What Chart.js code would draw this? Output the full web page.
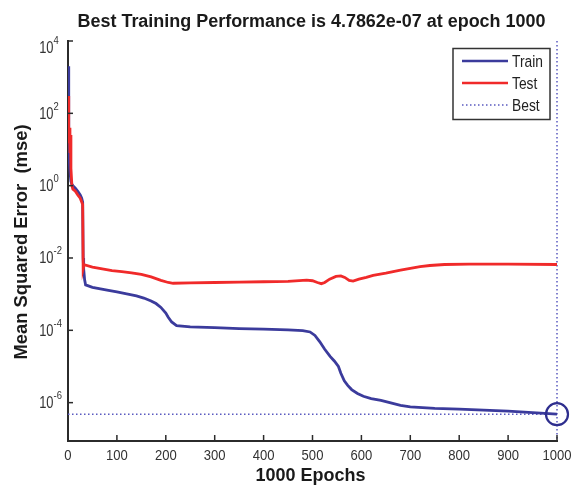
<!DOCTYPE html>
<html><head><meta charset="utf-8">
<script src="https://cdn.jsdelivr.net/npm/chart.js@4.4.0/dist/chart.umd.min.js"></script>
<style>html,body{margin:0;padding:0;background:#fff}canvas{display:block}</style>
</head><body>
<canvas id="c" width="572" height="485"></canvas>
<script>
const trainEpochs = [0,1,2,4,6,8,10,15,20,25,28,30,31,32,34,36,50,80,100,120,140,155,170,180,190,200,205,212,222,250,300,350,400,450,480,495,505,515,525,536,545,553,558,565,572,580,592,604,620,640,660,680,700,750,800,850,900,950,1000];
const trainMSE = [2000,25,8,2.5,1.3,1.1,1.0,0.85,0.7,0.55,0.45,0.35,0.01,5e-3,2.5e-3,1.8e-3,1.55e-3,1.3e-3,1.15e-3,1.02e-3,9.0e-4,7.8e-4,6.5e-4,5.5e-4,4.3e-4,3.0e-4,2.3e-4,1.7e-4,1.35e-4,1.25e-4,1.18e-4,1.12e-4,1.08e-4,1.03e-4,9.8e-5,9.0e-5,7.2e-5,4.8e-5,3.0e-5,1.9e-5,1.4e-5,1.0e-5,6.5e-6,4.0e-6,3.0e-6,2.3e-6,1.8e-6,1.5e-6,1.3e-6,1.15e-6,9.8e-7,8.4e-7,7.6e-7,6.9e-7,6.6e-7,6.2e-7,5.8e-7,5.3e-7,4.7862e-7];
const testEpochs = [0,1,2,3,4,5,6,8,10,15,20,25,30,31,33,50,70,90,110,130,150,170,190,205,215,250,300,350,400,450,488,500,510,518,525,535,548,558,566,575,583,595,610,624,650,680,700,720,740,770,820,900,1000];
const testMSE = [300,120,15,40,8,25,3,1.0,0.8,0.7,0.55,0.45,0.3,5e-3,6.5e-3,5.6e-3,5.0e-3,4.5e-3,4.2e-3,3.9e-3,3.5e-3,3.0e-3,2.4e-3,2.1e-3,2.0e-3,2.05e-3,2.1e-3,2.15e-3,2.2e-3,2.25e-3,2.45e-3,2.35e-3,2.1e-3,1.95e-3,2.1e-3,2.6e-3,3.1e-3,3.2e-3,2.9e-3,2.4e-3,2.3e-3,2.6e-3,2.9e-3,3.3e-3,3.8e-3,4.6e-3,5.2e-3,5.8e-3,6.2e-3,6.6e-3,6.8e-3,6.8e-3,6.6e-3];
const xTickValues = [0,100,200,300,400,500,600,700,800,900,1000];
const yTickExponents = [4,2,0,-2,-4,-6];
const bestEpoch = 1000;
const bestMSE = 4.7862e-7;
const yMin = 8.7e-8, yMax = 1e4;
const titleText = 'Best Training Performance is 4.7862e-07 at epoch 1000';
const xTitle = '1000 Epochs';
const yTitle = 'Mean Squared Error  (mse)';
const legendLabels = ['Train','Test','Best'];

const BLUE = '#3b3b9c', RED = '#f02a2a', DOT = '#5a5ac0', AXIS = '#2b2b2b', FONT = '"Liberation Sans", Arial, sans-serif';

function txt(ctx, s, x, y, o) {
  ctx.save();
  ctx.translate(x, y);
  if (o.rot) ctx.rotate(o.rot);
  ctx.font = (o.bold ? 'bold ' : '') + o.size + 'px ' + FONT;
  let sx = o.sx || 1;
  if (o.width) sx = o.width / ctx.measureText(s).width;
  ctx.scale(sx, o.sy || 1);
  ctx.textAlign = o.align || 'center';
  ctx.textBaseline = o.base || 'alphabetic';
  ctx.fillStyle = o.color || '#1a1a1a';
  ctx.fillText(s, 0, 0);
  ctx.restore();
}

const decor = {
  id: 'decor',
  afterDraw(chart) {
    const ctx = chart.ctx, a = chart.chartArea;
    const xs = chart.scales.x, ys = chart.scales.y;
    ctx.save();
    ctx.strokeStyle = AXIS; ctx.lineWidth = 1.5;
    xs.ticks.forEach(t => {
      const px = xs.getPixelForValue(t.value);
      ctx.beginPath(); ctx.moveTo(px, a.bottom); ctx.lineTo(px, a.bottom - 6); ctx.stroke();
      txt(ctx, String(t.value), px, a.bottom + 19, {size: 14.5, sx: 0.9, sy: 1.05, color: '#333'});
    });
    ys.ticks.forEach(t => {
      const py = ys.getPixelForValue(t.value);
      ctx.beginPath(); ctx.moveTo(a.left, py); ctx.lineTo(a.left + 5, py); ctx.stroke();
      const e = Math.round(Math.log10(t.value));
      const cy = Math.max(py, a.top + 6);
      txt(ctx, '10', a.left - 14.5, cy + 5.5, {size: 15, sx: 0.86, sy: 1.05, align: 'right', color: '#333'});
      txt(ctx, String(e), a.left - 14.5, cy - 3.5, {size: 10.5, sx: 0.9, align: 'left', color: '#333'});
    });
    txt(ctx, titleText, (a.left + a.right) / 2 - 1, 27, {size: 17.5, bold: true, width: 468});
    txt(ctx, xTitle, (a.left + a.right) / 2 - 2, 481, {size: 17.5, bold: true, width: 110});
    txt(ctx, yTitle, 26.5, (a.top + a.bottom) / 2 + 1, {size: 17.5, bold: true, width: 235, rot: -Math.PI / 2});
    const lx = 453, ly = 48.5, lw = 97, lh = 71;
    ctx.fillStyle = '#fff'; ctx.fillRect(lx, ly, lw, lh);
    ctx.strokeStyle = '#333'; ctx.lineWidth = 1.5; ctx.strokeRect(lx, ly, lw, lh);
    const rows = [[BLUE, []], [RED, []], [DOT, [1.5, 2.5]]];
    rows.forEach((r, i) => {
      const y = 61 + i * 22;
      ctx.beginPath(); ctx.setLineDash(r[1]); ctx.strokeStyle = r[0];
      ctx.lineWidth = i === 2 ? 1.5 : 2.5;
      ctx.moveTo(462, y); ctx.lineTo(508, y); ctx.stroke();
      ctx.setLineDash([]);
      txt(ctx, legendLabels[i], 512, y + 6, {size: 15, sx: 0.92, sy: 1.05, align: 'left', color: '#222'});
    });
    ctx.restore();
  }
};

new Chart(document.getElementById('c'), {
  type: 'line',
  data: {
    datasets: [
      {label: 'BestCircle', data: [{x: bestEpoch, y: bestMSE}], showLine: false, pointRadius: 11, pointHoverRadius: 11,
       pointBorderWidth: 2.2, pointBorderColor: '#2e2e8e', pointBackgroundColor: 'rgba(0,0,0,0)', order: 0, clip: false},
      {label: legendLabels[1], data: testEpochs.map((e, i) => ({x: e, y: testMSE[i]})), borderColor: RED, borderWidth: 2.8,
       pointRadius: 0, tension: 0, order: 1},
      {label: legendLabels[0], data: trainEpochs.map((e, i) => ({x: e, y: trainMSE[i]})), borderColor: BLUE, borderWidth: 2.8,
       pointRadius: 0, tension: 0, order: 2},
      {label: 'BestH', data: [{x: 0, y: bestMSE}, {x: bestEpoch, y: bestMSE}], borderColor: DOT, borderWidth: 1.5,
       borderDash: [1.5, 2.5], pointRadius: 0, order: 3, clip: false},
      {label: 'BestV', data: [{x: bestEpoch, y: yMax}, {x: bestEpoch, y: yMin}], borderColor: DOT, borderWidth: 1.5,
       borderDash: [1.5, 2.5], pointRadius: 0, order: 3, clip: false}
    ]
  },
  options: {
    responsive: false, animation: false, devicePixelRatio: 1,
    layout: {padding: {top: 41, right: 15, left: 0, bottom: 0}},
    plugins: {legend: {display: false}, title: {display: false}, tooltip: {enabled: false}},
    scales: {
      x: {type: 'linear', min: 0, max: 1000, ticks: {display: false, stepSize: 100},
          afterBuildTicks: s => { s.ticks = xTickValues.map(v => ({value: v})); },
          grid: {display: false, drawTicks: false}, border: {display: true, color: AXIS, width: 2},
          afterFit: s => { s.height = 44; }},
      y: {type: 'logarithmic', min: yMin, max: yMax, ticks: {display: false},
          afterBuildTicks: s => { s.ticks = yTickExponents.map(e => ({value: Math.pow(10, e)})); },
          grid: {display: false, drawTicks: false}, border: {display: true, color: AXIS, width: 2},
          afterFit: s => { s.width = 68; }}
    }
  },
  plugins: [decor]
});
</script>
</body></html>
